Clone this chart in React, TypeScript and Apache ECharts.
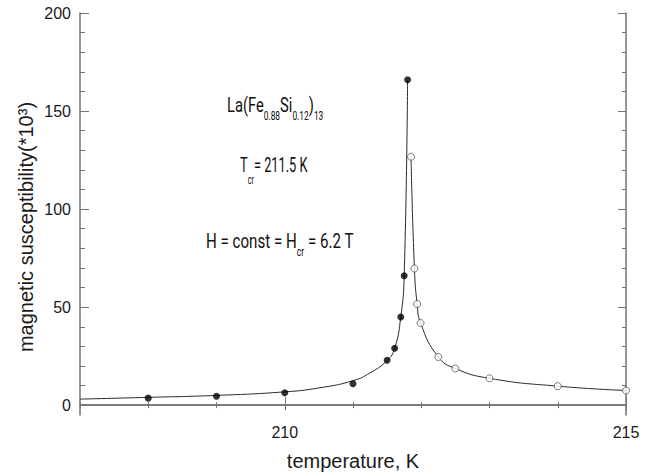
import React, { useEffect, useRef } from "react";
import * as echarts from "echarts";

// Measured points (filled = below Tcr branch, open = above)
const tempFilled = [208, 209, 210, 211, 211.5, 211.61, 211.7, 211.75, 211.8];
const chiFilled = [3.6, 4.6, 6.3, 10.9, 22.9, 29.0, 45.0, 66.0, 166.0];
const tempOpen = [211.85, 211.9, 211.94, 211.99, 212.25, 212.5, 213, 214, 215];
const chiOpen = [126.7, 69.7, 51.6, 41.9, 24.6, 18.7, 13.7, 9.7, 7.5];

// Guide curves
const fitLeftT = [207, 208, 209, 210, 210.5, 211, 211.25, 211.5, 211.61, 211.7, 211.75, 211.8];
const fitLeftChi = [3.1, 4.0, 5.0, 6.8, 8.8, 12.5, 16.5, 22.8, 29.0, 45.0, 66.0, 166.0];
const fitRightT = [211.85, 211.9, 211.94, 211.99, 212.25, 212.5, 213, 214, 215];
const fitRightChi = [126.7, 69.7, 51.6, 41.9, 24.6, 18.7, 13.7, 9.7, 7.5];

// Ticks and labels
const xMinorTicks = [207, 208, 209, 210, 211, 212, 213, 214, 215];
const xMajorTicks = [210, 215];
const yMinorTicks = [0, 10, 20, 30, 40, 50, 60, 70, 80, 90, 100, 110, 120, 130, 140, 150, 160, 170, 180, 190, 200];
const yMajorTicks = [0, 50, 100, 150, 200];

const xTitle = "temperature, K";
const yTitle = "magnetic susceptibility(*10³)";

const zip = (a: number[], b: number[]) => a.map((v, i) => [v, b[i]]);

const AXIS_COLOR = "#737373";
const TEXT_COLOR = "#1a1a1a";

export default function App() {
  const ref = useRef<HTMLDivElement>(null);
  useEffect(() => {
    if (!ref.current) return;
    const chart = echarts.init(ref.current, undefined, { renderer: "svg" });
    const lineStyle = { color: AXIS_COLOR, width: 1.5 };
    const tickStyle = { color: AXIS_COLOR, width: 1 };
    const xBase = { type: "value" as const, min: 207, max: 215, splitLine: { show: false } };
    const yBase = { type: "value" as const, min: -5, max: 200, splitLine: { show: false } };
    const mainFont = "Roboto";
    const mkRich = (pad: number) => ({
      m: { fontSize: 21, fontFamily: mainFont, lineHeight: 22, verticalAlign: "middle", color: "#111" },
      s: { fontSize: 12, fontFamily: mainFont, lineHeight: 12, verticalAlign: "middle", padding: [pad, 0, 0, 0], color: "#111" },
    });
    chart.setOption({
      animation: false,
      backgroundColor: "#ffffff",
      grid: { left: 80, right: 29, top: 13, bottom: 60, containLabel: false },
      xAxis: [
        {
          ...xBase,
          position: "bottom",
          axisLine: { show: true, lineStyle },
          axisTick: { show: true, inside: true, length: 3, customValues: xMinorTicks, lineStyle: tickStyle },
          axisLabel: { show: false },
          name: xTitle,
          nameLocation: "middle",
          nameGap: 36,
          nameTextStyle: { fontFamily: "Liberation Sans", fontSize: 20, color: TEXT_COLOR },
        },
        {
          ...xBase,
          position: "bottom",
          axisLine: { show: false },
          axisTick: { show: true, inside: true, length: 8, customValues: xMajorTicks, lineStyle: tickStyle },
          axisLabel: { show: true, customValues: xMajorTicks, margin: 9, fontFamily: "Liberation Sans", fontSize: 16, color: TEXT_COLOR },
        },
        {
          ...xBase,
          position: "top",
          axisLine: { show: true, lineStyle },
          axisTick: { show: true, inside: true, length: 3, customValues: xMinorTicks, lineStyle: tickStyle },
          axisLabel: { show: false },
        },
        {
          ...xBase,
          position: "top",
          axisLine: { show: false },
          axisTick: { show: true, inside: true, length: 5, customValues: xMajorTicks, lineStyle: tickStyle },
          axisLabel: { show: false },
        },
      ],
      yAxis: [
        {
          ...yBase,
          position: "left",
          axisLine: { show: true, lineStyle },
          axisTick: { show: true, inside: true, length: 5, customValues: yMinorTicks, lineStyle: tickStyle },
          axisLabel: { show: false },
        },
        {
          ...yBase,
          position: "left",
          axisLine: { show: false },
          axisTick: { show: true, inside: true, length: 9, customValues: yMajorTicks, lineStyle: tickStyle },
          axisLabel: { show: true, customValues: yMajorTicks, margin: 9, fontFamily: "Liberation Sans", fontSize: 16, color: TEXT_COLOR },
        },
        {
          ...yBase,
          position: "right",
          axisLine: { show: true, lineStyle },
          axisTick: { show: true, inside: true, length: 4, customValues: yMinorTicks, lineStyle: tickStyle },
          axisLabel: { show: false },
        },
        {
          ...yBase,
          position: "right",
          axisLine: { show: false },
          axisTick: { show: true, inside: true, length: 8, customValues: yMajorTicks, lineStyle: tickStyle },
          axisLabel: { show: false },
        },
      ],
      series: [
        {
          type: "line",
          data: zip(fitLeftT, fitLeftChi),
          smooth: 0.5,
          showSymbol: false,
          symbol: "none",
          lineStyle: { color: "#2a2a2a", width: 1 },
          z: 2,
        },
        {
          type: "line",
          data: zip(fitRightT, fitRightChi),
          smooth: 0.5,
          showSymbol: false,
          symbol: "none",
          lineStyle: { color: "#2a2a2a", width: 1 },
          z: 2,
        },
        {
          type: "scatter",
          data: zip(tempFilled, chiFilled),
          symbol: "circle",
          symbolSize: 7,
          itemStyle: { color: "#000000" },
          z: 3,
        },
        {
          type: "scatter",
          data: zip(tempOpen, chiOpen),
          symbol: "circle",
          symbolSize: 7,
          itemStyle: { color: "#ffffff", borderColor: "#555555", borderWidth: 1 },
          z: 3,
        },
      ],
      graphic: [
        {
          type: "text",
          x: 26,
          y: 227,
          rotation: Math.PI / 2,
          style: {
            text: yTitle,
            font: "20px 'Liberation Sans'",
            fill: TEXT_COLOR,
            align: "center",
            verticalAlign: "middle",
          },
        },
        {
          type: "text",
          x: 227,
          y: 104,
          scaleX: 0.7,
          style: {
            text: "{m|La(Fe}{s|0.88}{m|Si}{s|0.12}{m|)}{s|13}",
            rich: mkRich(24),
            align: "left",
            verticalAlign: "middle",
            fill: "#111",
          },
        },
        {
          type: "text",
          x: 240,
          y: 165,
          scaleX: 0.61,
          style: {
            text: "{m|T}{s|cr}{m|= 211.5 K}",
            rich: mkRich(30),
            align: "left",
            verticalAlign: "middle",
            fill: "#111",
          },
        },
        {
          type: "text",
          x: 206,
          y: 241,
          scaleX: 0.72,
          style: {
            text: "{m|H = const = H}{s|cr}{m| = 6.2 T}",
            rich: mkRich(22),
            align: "left",
            verticalAlign: "middle",
            fill: "#111",
          },
        },
      ],
    });
    return () => chart.dispose();
  }, []);
  return (
    <div
      ref={ref}
      style={{ position: "fixed", left: 0, top: 0, width: 655, height: 476, background: "#fff" }}
    />
  );
}
